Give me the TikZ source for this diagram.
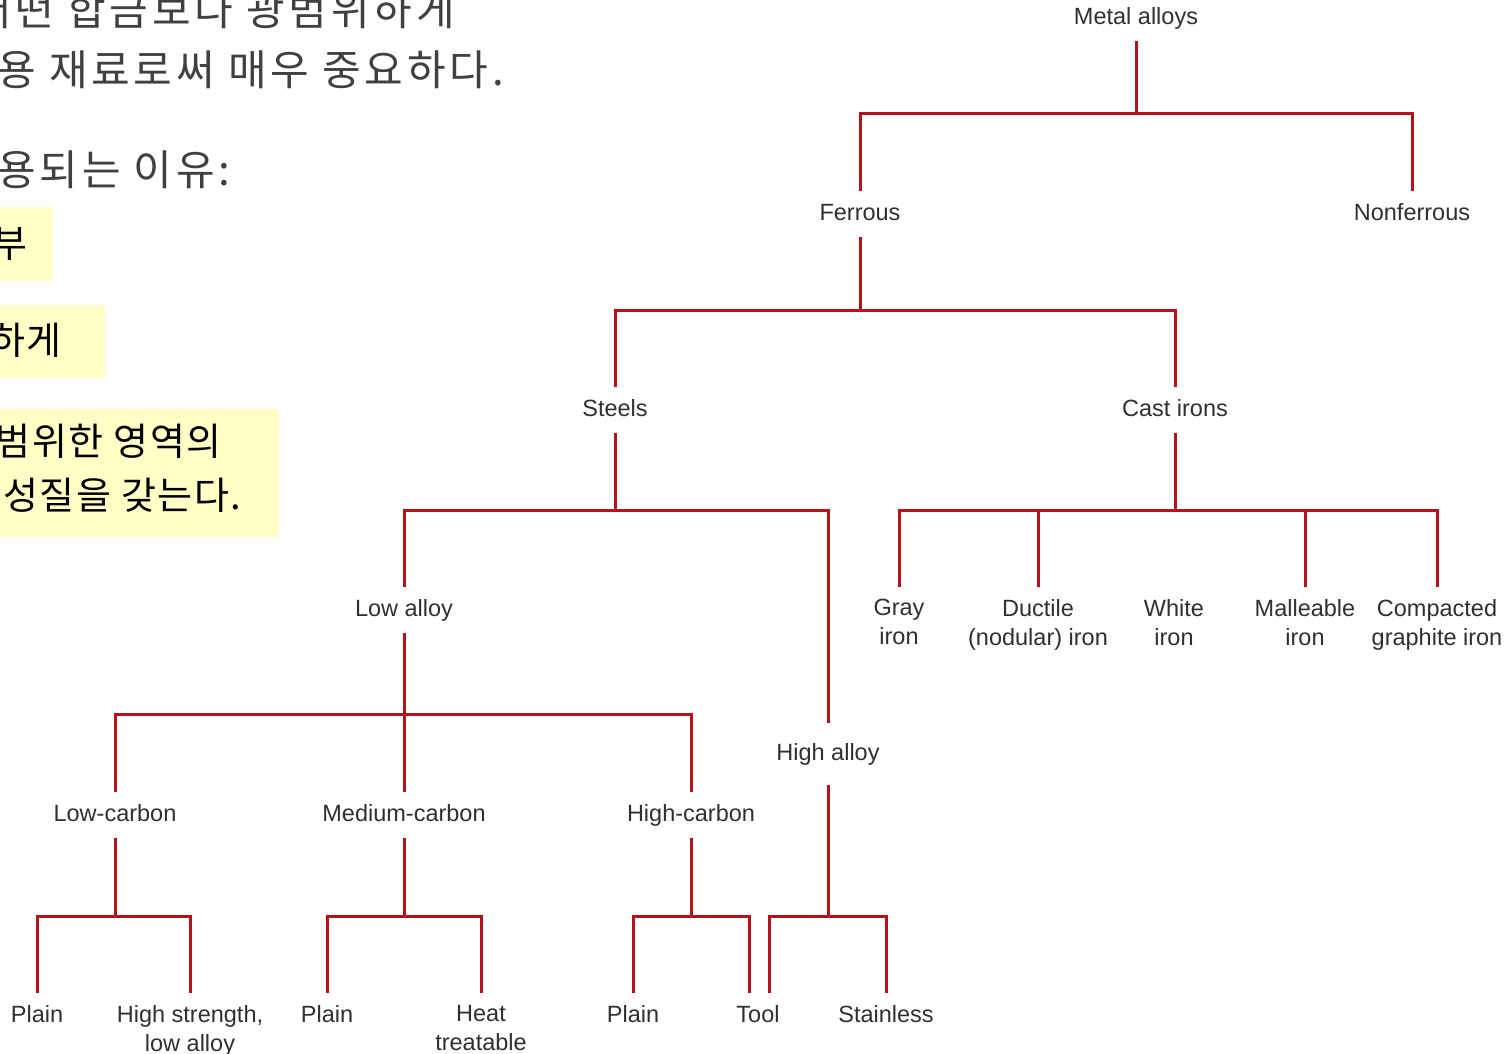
\documentclass[tikz,border=0pt]{standalone}
\usepackage{fontspec}
\newfontfamily\lblfam{Liberation Sans}
\newfontfamily\krfam[LetterSpace=9]{Noto Sans CJK KR}
\newfontfamily\krboxfam[LetterSpace=4]{Noto Sans CJK KR}
\definecolor{linered}{HTML}{B3121C}
\definecolor{lblgray}{HTML}{303030}
\definecolor{krgray}{HTML}{404040}
\definecolor{hiyellow}{HTML}{FFFFC6}
\newcommand\lstrutx{\rule[-5pt]{0pt}{22pt}}
\tikzset{
  lbl/.style={font=\lblfam\fontsize{23.5}{29}\selectfont, text=lblgray, inner xsep=0pt, inner ysep=12pt, align=center, anchor=north, execute at begin node=\lstrutx},
  link/.style={draw=linered, line width=3pt, line join=miter, line cap=butt},
  krtext/.style={font=\krfam\fontsize{42}{50}\selectfont, text=krgray, inner sep=0pt},
  krbox/.style={font=\krboxfam\fontsize{38}{54}\selectfont, text=black, inner sep=0pt},
  hibox/.style={fill=hiyellow, draw=none}
}
\begin{document}
\begin{tikzpicture}[x=1pt,y=-1pt]
\useasboundingbox (0,0) rectangle (1507,1054);
\clip (0,0) rectangle (1507,1054);
\fill[white] (0,0) rectangle (1507,1054);

% Korean text (left)
\node[krtext, anchor=base east] (k1) at (455,26) {어떤 합금보다 광범위하게};
\node[krtext, anchor=base west] (k2) at (-3,86) {용 재료로써 매우 중요하다.};
\node[krtext, anchor=base west] (k3) at (-3,185) {용되는 이유:};

\fill[hibox] (0,207) rectangle (53,281);
\fill[hibox] (0,305) rectangle (105,378);
\fill[hibox] (0,409) rectangle (279,537);
\node[krbox, anchor=base east] (h1) at (28,257) {부};
\node[krbox, anchor=base east] (h2) at (62,354) {하게};
\node[krbox, anchor=base east] (h3) at (222,455) {범위한 영역의};
\node[krbox, anchor=base west] (h4) at (3,509) {성질을 갖는다.};

% tree labels
\node[lbl] (metal) at (1136,-5) {Metal alloys};
\node[lbl] (ferrous) at (860,191) {Ferrous};
\node[lbl] (nonferrous) at (1412,191) {Nonferrous};
\node[lbl] (steels) at (615,387) {Steels};
\node[lbl] (cast) at (1175,387) {Cast irons};
\node[lbl] (lowalloy) at (404,587) {Low alloy};
\node[lbl] (gray) at (899,587) {Gray\\iron};
\node[lbl] (ductile) at (1038,587) {Ductile\\(nodular) iron};
\node[lbl] (white) at (1174,587) {White\\iron};
\node[lbl] (malleable) at (1305,587) {Malleable\\iron};
\node[lbl] (compacted) at (1437,587) {Compacted\\graphite iron};
\node[lbl, inner ysep=20pt] (highalloy) at (828,723) {High alloy};
\node[lbl] (lowc) at (115,792) {Low-carbon};
\node[lbl] (medc) at (404,792) {Medium-carbon};
\node[lbl] (highc) at (691,792) {High-carbon};
\node[lbl] (plain1) at (37,993) {Plain};
\node[lbl] (hsla) at (190,993) {High strength,\\low alloy};
\node[lbl] (plain2) at (327,993) {Plain};
\node[lbl] (heat) at (481,993) {Heat\\treatable};
\node[lbl] (plain3) at (633,993) {Plain};
\node[lbl] (tool) at (758,993) {Tool};
\node[lbl] (stainless) at (886,993) {Stainless};

% junctions
\coordinate (b1) at (1136,114);
\coordinate (b2) at (860,310);
\coordinate (b3) at (615,510);
\coordinate (b4) at (1175,510);
\coordinate (b5) at (404,714);
\coordinate (b6) at (115,916);
\coordinate (b7) at (404,916);
\coordinate (b8) at (691,916);
\coordinate (b9) at (828,916);
\coordinate (toolL) at ([xshift=-9pt]tool.north);
\coordinate (toolR) at ([xshift=11pt]tool.north);

% connectors
\draw[link] (metal.south) -- (b1);
\draw[link] (ferrous.north) |- (b1) -| (nonferrous.north);
\draw[link] (ferrous.south) -- (b2);
\draw[link] (steels.north) |- (b2) -| (cast.north);
\draw[link] (steels.south) -- (b3);
\draw[link] (lowalloy.north) |- (b3) -| (highalloy.north);
\draw[link] (cast.south) -- (b4);
\draw[link] (gray.north) |- (b4) -| (compacted.north);
\draw[link] (ductile.north) -- (ductile.north |- b4);
\draw[link] (malleable.north) -- (malleable.north |- b4);
\draw[link] (lowalloy.south) -- (b5);
\draw[link] (lowc.north) |- (b5) -| (highc.north);
\draw[link] (medc.north) -- (b5);
\draw[link] (lowc.south) -- (b6);
\draw[link] (plain1.north) |- (b6) -| (hsla.north);
\draw[link] (medc.south) -- (b7);
\draw[link] (plain2.north) |- (b7) -| (heat.north);
\draw[link] (highc.south) -- (b8);
\draw[link] (plain3.north) |- (b8) -| (toolL);
\draw[link] (highalloy.south) -- (b9);
\draw[link] (toolR) |- (b9) -| (stainless.north);
\end{tikzpicture}
\end{document}
